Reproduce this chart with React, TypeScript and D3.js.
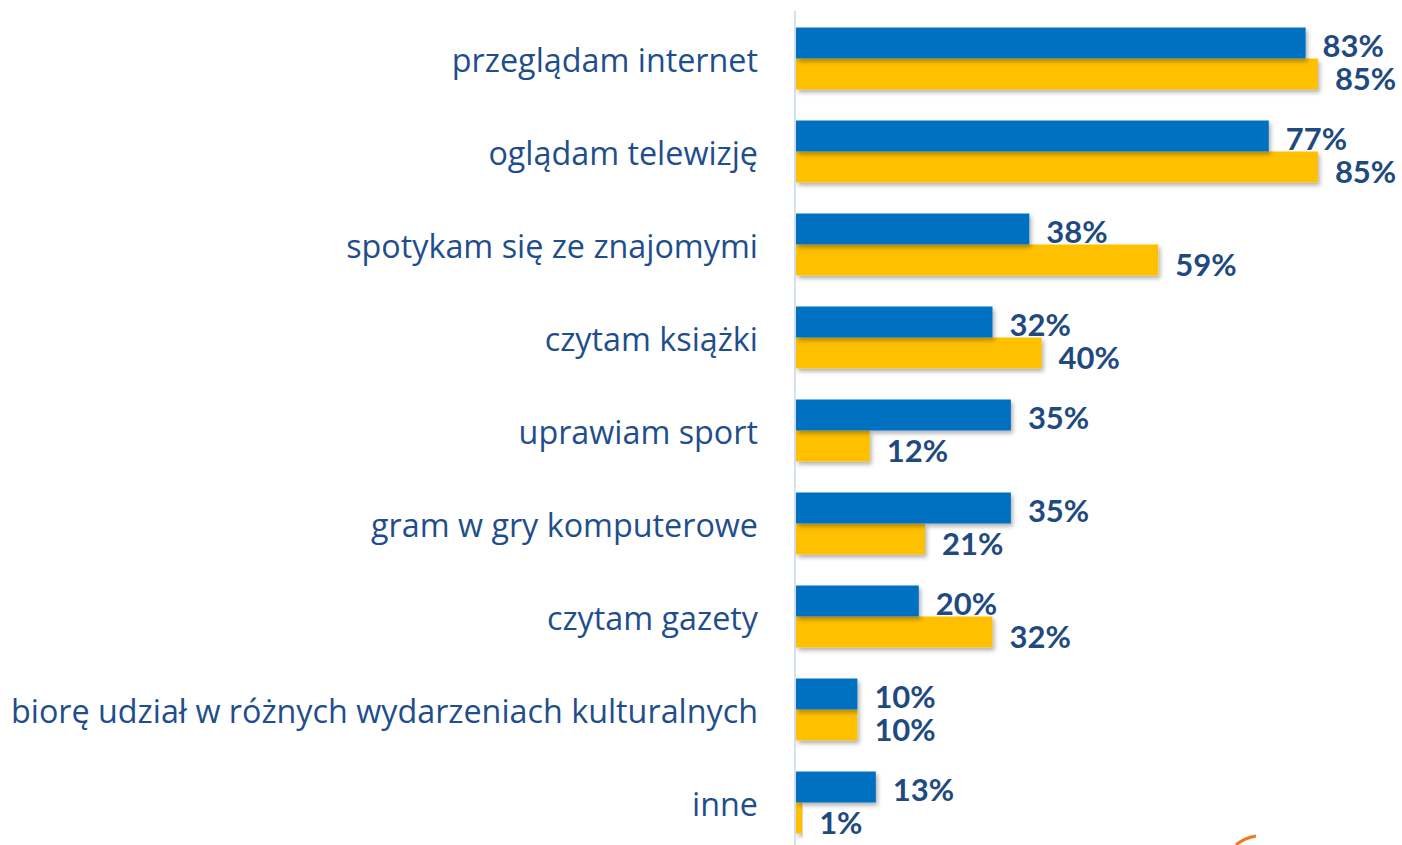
import React from "react";
import * as d3 from "d3";

const categories = [
  "przeglądam internet",
  "oglądam telewizję",
  "spotykam się ze znajomymi",
  "czytam książki",
  "uprawiam sport",
  "gram w gry komputerowe",
  "czytam gazety",
  "biorę udział w różnych wydarzeniach kulturalnych",
  "inne",
];
const seriesBlue = [83, 77, 38, 32, 35, 35, 20, 10, 13];
const seriesYellow = [85, 85, 59, 40, 12, 21, 32, 10, 1];

const W = 1402;
const H = 845;

export default function App() {
  const y = d3
    .scaleBand<string>()
    .domain(categories)
    .range([12, 849])
    .paddingInner(1 / 3)
    .paddingOuter(1 / 6);
  const x = d3.scaleLinear().domain([0, 100]).range([796, 1410]);
  const bh = y.bandwidth() / 2;
  const blue = "#0070C0";
  const yellow = "#FFC000";
  const labelColor = "#1F4E8C";
  const valColor = "#1F4A80";

  return (
    <svg
      width={W}
      height={H}
      style={{ position: "absolute", left: 0, top: 0, background: "#fff" }}
    >
      <defs>
        <filter id="sh" x="-5%" y="-20%" width="115%" height="160%">
          <feDropShadow dx="2" dy="3" stdDeviation="2" floodColor="#000" floodOpacity="0.3" />
        </filter>
      </defs>
      <rect width={W} height={H} fill="#fff" />
      <line x1={795} x2={795} y1={11} y2={H} stroke="#D6E2F2" strokeWidth={2} />
      {categories.map((c, i) => {
        const y0 = y(c)!;
        return (
          <g key={c}>
            <text
              x={758}
              y={y0 + y.bandwidth() / 2}
              textAnchor="end"
              dominantBaseline="central"
              fontFamily="'Open Sans', sans-serif"
              fontSize={32.3}
              fill={labelColor}
            >
              {c}
            </text>
            <rect x={x(0)} y={y0 + bh} width={x(seriesYellow[i]) - x(0)} height={bh} fill={yellow} filter="url(#sh)" />
            <rect x={x(0)} y={y0} width={x(seriesBlue[i]) - x(0)} height={bh} fill={blue} filter="url(#sh)" />
            <text
              x={x(seriesBlue[i]) + 17}
              y={y0 + bh / 2 + 2}
              dominantBaseline="central"
              fontFamily="Lato, 'Open Sans', sans-serif"
              fontWeight="bold"
              fontSize={31}
              fill={valColor}
            >
              {seriesBlue[i]}%
            </text>
            <text
              x={x(seriesYellow[i]) + 17}
              y={y0 + bh + bh / 2 + 4}
              dominantBaseline="central"
              fontFamily="Lato, 'Open Sans', sans-serif"
              fontWeight="bold"
              fontSize={31}
              fill={valColor}
            >
              {seriesYellow[i]}%
            </text>
          </g>
        );
      })}
      <path d="M1236,845 Q1244,838 1256,836" stroke="#F07820" strokeWidth={3} fill="none" />
    </svg>
  );
}
